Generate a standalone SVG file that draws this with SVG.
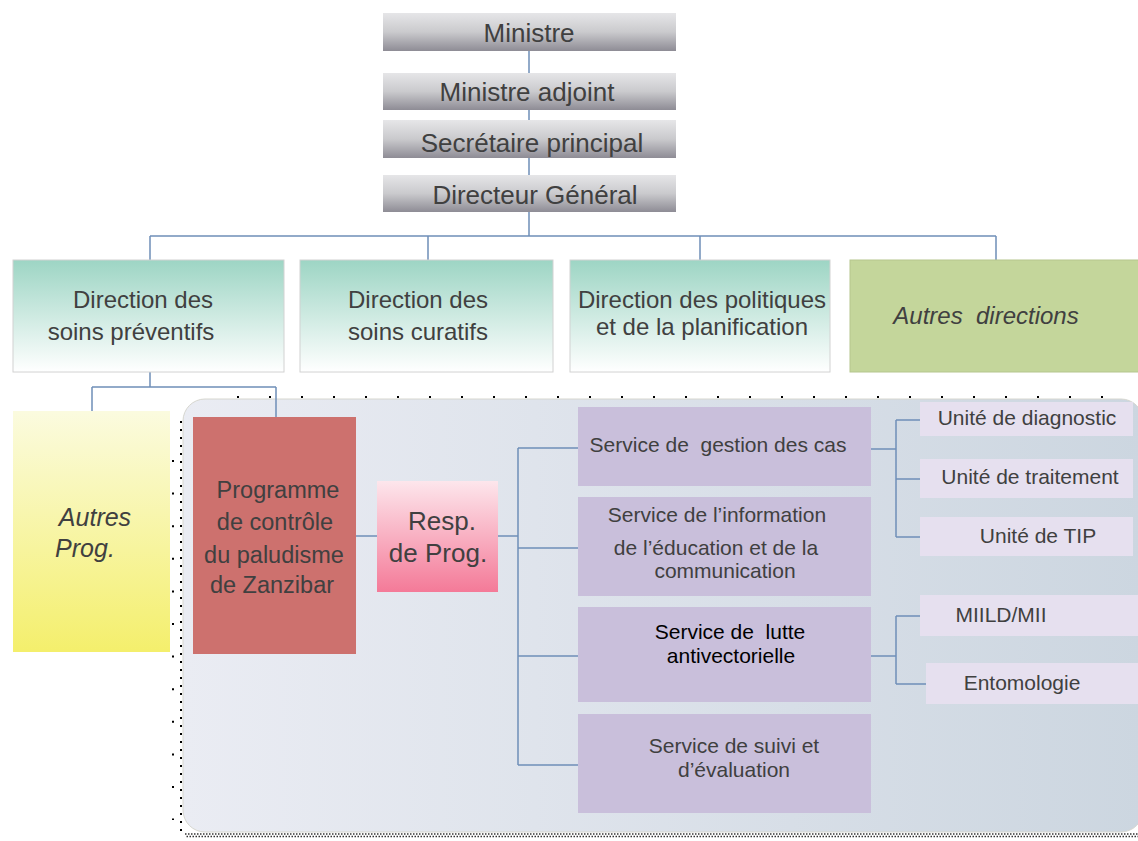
<svg xmlns="http://www.w3.org/2000/svg" width="1138" height="841" viewBox="0 0 1138 841">
<defs>
<linearGradient id="gTop" x1="0" y1="0" x2="0" y2="1">
<stop offset="0" stop-color="#e6e6e8"/><stop offset="0.5" stop-color="#cacacd"/><stop offset="1" stop-color="#8e8c95"/>
</linearGradient>
<linearGradient id="gDir" x1="0" y1="0" x2="0" y2="1">
<stop offset="0" stop-color="#9dd5c4"/><stop offset="1" stop-color="#ffffff"/>
</linearGradient>
<linearGradient id="gYel" x1="0" y1="0" x2="0" y2="1">
<stop offset="0" stop-color="#fbfbdf"/><stop offset="1" stop-color="#f4ef6c"/>
</linearGradient>
<linearGradient id="gPink" x1="0" y1="0" x2="0" y2="1">
<stop offset="0" stop-color="#fde6ec"/><stop offset="1" stop-color="#f47a98"/>
</linearGradient>
<linearGradient id="gPanel" x1="0" y1="0" x2="1" y2="0">
<stop offset="0" stop-color="#eaecf3"/><stop offset="1" stop-color="#ccd6e0"/>
</linearGradient>
<style>
text{font-family:"Liberation Sans",Arial,sans-serif;fill:#404040;text-anchor:middle;white-space:pre}
.t26{font-size:26px}
.t24{font-size:24px}
.t23{font-size:23.5px}
.t25{font-size:25px}
.t20{font-size:21px}
.it{font-style:italic}
.con{fill:none;stroke:#6f8fb8;stroke-width:1.5}
.svc{fill:#c9bfdb}
.unit{fill:#e6e0ef}
.dir{fill:url(#gDir);stroke:#d2d2d2;stroke-width:1}
</style>
</defs>
<rect width="1138" height="841" fill="#ffffff"/>

<g id="frame">
<rect x="183" y="399" width="960" height="433" rx="22" fill="url(#gPanel)" stroke="#d6d6cf" stroke-width="1"/>
<line x1="237" y1="397" x2="1110" y2="397" stroke="#000" stroke-width="2" stroke-dasharray="2 30"/>
<line x1="181" y1="421" x2="181" y2="832" stroke="#000" stroke-width="2" stroke-dasharray="2 6"/>
<line x1="173" y1="460" x2="173" y2="820" stroke="#000" stroke-width="2" stroke-dasharray="2 30.6"/>
<line x1="185" y1="834" x2="1138" y2="834" stroke="#333" stroke-width="1.4" stroke-dasharray="1.5 1.5"/>
<line x1="185" y1="836.5" x2="1138" y2="836.5" stroke="#333" stroke-width="1.4" stroke-dasharray="1.5 1.5" stroke-dashoffset="1.5"/>
</g>

<g id="connectors">
<path class="con" d="M529 51V73M529 110V120M529 158V175"/>
<path class="con" d="M529 212V236M150 236H996M150 236V260M428 236V260M700 236V260M996 236V260" stroke="#5a7aaa"/>
<path class="con" d="M150 372V387M92 387H276M92 387V411M276 387V417"/>
<path class="con" d="M356 536H377M498 536H518M518 448V765M518 448H578M518 548H578M518 656H578M518 765H578"/>
<path class="con" d="M871 449H896M896 420V537M896 420H920M896 479H920M896 537H920"/>
<path class="con" d="M871 656H896M896 616V684M896 616H920M896 684H926"/>
</g>

<g id="ministre"><rect x="383" y="13" width="293" height="38" fill="url(#gTop)"/><text class="t26" x="529" y="42">Ministre</text></g>
<g id="ministre-adjoint"><rect x="383" y="73" width="293" height="37" fill="url(#gTop)"/><text class="t26" x="527" y="101">Ministre adjoint</text></g>
<g id="secretaire"><rect x="383" y="120" width="293" height="38" fill="url(#gTop)"/><text class="t26" x="532" y="152">Secrétaire principal</text></g>
<g id="directeur"><rect x="383" y="175" width="293" height="37" fill="url(#gTop)"/><text class="t26" x="535" y="204">Directeur Général</text></g>

<g id="dir-preventifs"><rect class="dir" x="13" y="260" width="271" height="112"/><text class="t24" x="143" y="308">Direction des</text><text class="t24" x="131" y="340">soins préventifs</text></g>
<g id="dir-curatifs"><rect class="dir" x="300" y="260" width="253" height="112"/><text class="t24" x="418" y="308">Direction des</text><text class="t24" x="418" y="340">soins curatifs</text></g>
<g id="dir-politiques"><rect class="dir" x="570" y="260" width="260" height="112"/><text class="t24" x="702" y="308">Direction des politiques</text><text class="t24" x="702" y="335">et de la planification</text></g>
<g id="autres-directions"><rect x="850" y="260" width="290" height="112" fill="#c4d69b" stroke="#b5c68e" stroke-width="1"/><text class="t24 it" x="986" y="324">Autres  directions</text></g>

<g id="autres-prog"><rect x="13" y="411" width="157" height="241" fill="url(#gYel)"/><text class="t25 it" x="95" y="526">Autres</text><text class="t25 it" x="85" y="557">Prog.</text></g>
<g id="programme"><rect x="193" y="417" width="163" height="237" fill="#cd716e"/>
<text class="t23" x="278" y="498">Programme</text><text class="t23" x="275" y="530">de contrôle</text><text class="t23" x="274" y="563">du paludisme</text><text class="t23" x="272" y="593">de Zanzibar</text></g>
<g id="resp"><rect x="377" y="481" width="121" height="111" fill="url(#gPink)"/><text class="t26" x="442" y="530">Resp.</text><text class="t26" x="438" y="562">de Prog.</text></g>

<g id="svc-gestion"><rect class="svc" x="578" y="407" width="293" height="79"/><text class="t20" x="718" y="452">Service de  gestion des cas</text></g>
<g id="svc-iec"><rect class="svc" x="578" y="497" width="293" height="99"/><text class="t20" x="717" y="522">Service de l’information</text><text class="t20" x="716" y="555">de l’éducation et de la</text><text class="t20" x="725" y="578">communication</text></g>
<g id="svc-lutte"><rect class="svc" x="578" y="607" width="293" height="95"/><text class="t20" x="730" y="639" style="fill:#000">Service de  lutte</text><text class="t20" x="731" y="663" style="fill:#000">antivectorielle</text></g>
<g id="svc-suivi"><rect class="svc" x="578" y="714" width="293" height="99"/><text class="t20" x="734" y="753">Service de suivi et</text><text class="t20" x="734" y="777">d’évaluation</text></g>

<g id="u-diag"><rect class="unit" x="920" y="402" width="213" height="34"/><text class="t20" x="1027" y="425">Unité de diagnostic</text></g>
<g id="u-trait"><rect class="unit" x="920" y="459" width="213" height="39"/><text class="t20" x="1030" y="484">Unité de traitement</text></g>
<g id="u-tip"><rect class="unit" x="920" y="517" width="213" height="39"/><text class="t20" x="1038" y="543">Unité de TIP</text></g>
<g id="u-miild"><rect class="unit" x="920" y="595" width="218" height="41"/><text class="t20" x="1001" y="622">MIILD/MII</text></g>
<g id="u-ento"><rect class="unit" x="926" y="663" width="212" height="41"/><text class="t20" x="1022" y="690">Entomologie</text></g>
</svg>
